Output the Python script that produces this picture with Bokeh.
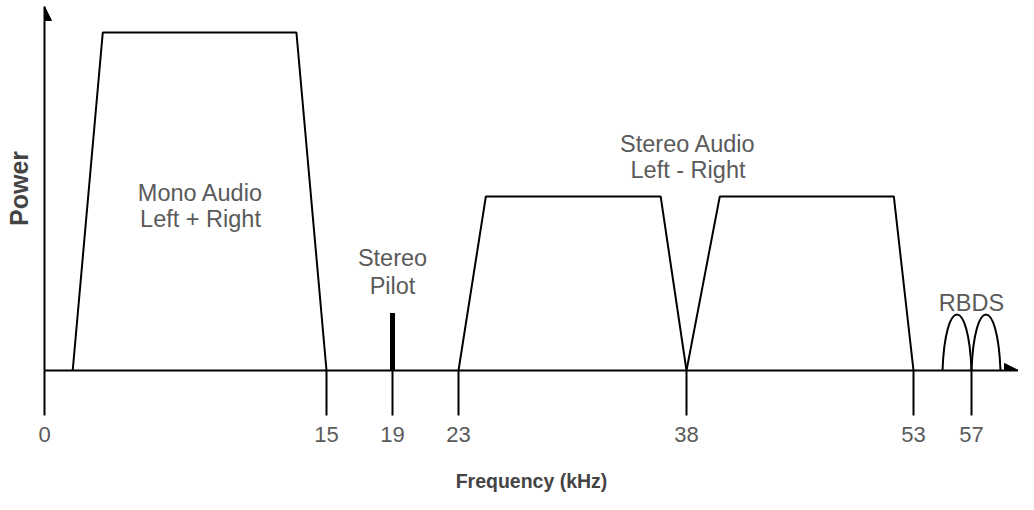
import numpy as np
from bokeh.plotting import figure
from bokeh.models import Range1d, FixedTicker, Arrow, NormalHead, CustomJSTickFormatter
from bokeh.core.properties import value
from bokeh.embed import file_html
from bokeh.resources import INLINE

# ---------------- data (kHz / relative power) ----------------
tick_khz = [0, 15, 19, 23, 38, 53, 57]
tick_labels = ["0", "15", "19", "23", "38", "53", "57"]

mono_khz = [1.5, 3.1, 13.4, 15]
mono_pwr = [0, 1.0, 1.0, 0]

lsb_khz = [23, 24.8, 36.3, 38]
lsb_pwr = [0, 0.515, 0.515, 0]

usb_khz = [38, 40.2, 51.7, 53]
usb_pwr = [0, 0.515, 0.515, 0]

pilot_khz = [19]
pilot_pwr = [0.17]

rbds_lo = [55, 57]
rbds_hi = [57, 59]
rbds_pwr = [0.166, 0.166]

label_text = ["Mono Audio", "Left + Right", "Stereo", "Pilot",
              "Stereo Audio", "Left - Right", "RBDS"]
label_khz = [8.3, 8.3, 19, 19, 38.1, 38.1, 57]
label_pwr = [0.524, 0.447, 0.334, 0.251, 0.669, 0.592, 0.201]

x_title = "Frequency (kHz)"
y_title = "Power"

# ---------------- schematic (not-to-scale) frequency axis ----------------
AXIS_KHZ = [0, 15, 19, 23, 38, 53, 57, 61]
AXIS_POS = [0, 282, 348, 414, 642, 869, 927, 985]


def sx(f):
    return np.interp(np.asarray(f, dtype=float), AXIS_KHZ, AXIS_POS)


W, H = 1018, 494
LEFT, TOP, BOTTOM = 44, 6, 124
X_END = W - LEFT
PX_Y = 338.0                      # pixels per power unit
Y_END = (H - TOP - BOTTOM) / PX_Y
FONT = "Liberation Sans"
TXT = "#5a5a5a"

p = figure(width=W, height=H, x_range=Range1d(0, X_END), y_range=Range1d(0, Y_END),
           output_backend="svg", toolbar_location=None,
           min_border_left=LEFT, min_border_right=0, min_border_top=TOP, min_border_bottom=BOTTOM)
p.outline_line_color = None
p.grid.visible = False
p.background_fill_color = "white"
p.border_fill_color = "white"

# x axis
xa = p.xaxis[0]
tick_pos = [float(v) for v in sx(tick_khz)]
xa.ticker = FixedTicker(ticks=tick_pos)
xa.formatter = CustomJSTickFormatter(args=dict(pos=tick_pos, labs=tick_labels), code="""
    for (let i = 0; i < pos.length; i++) { if (Math.abs(pos[i] - tick) < 1e-6) return labs[i]; }
    return "";
""")
xa.minor_tick_line_color = None
xa.major_tick_in = 0
xa.major_tick_out = 45
xa.major_tick_line_width = 2
xa.major_tick_line_color = "black"
xa.axis_line_width = 2
xa.axis_line_color = "black"
xa.major_label_standoff = 11
xa.major_label_text_font = FONT
xa.major_label_text_font_size = "22px"
xa.major_label_text_color = TXT
xa.axis_label = x_title
xa.axis_label_text_font = FONT
xa.axis_label_text_font_size = "19.5px"
xa.axis_label_text_font_style = "bold"
xa.axis_label_text_color = "#444444"
xa.axis_label_standoff = 25

# y axis
ya = p.yaxis[0]
ya.ticker = FixedTicker(ticks=[])
ya.major_tick_in = 0
ya.major_tick_out = 0
ya.minor_tick_line_color = None
ya.major_label_text_font_size = "0px"
ya.axis_line_width = 2
ya.axis_line_color = "black"
ya.axis_label = y_title
ya.axis_label_text_font = FONT
ya.axis_label_text_font_size = "25px"
ya.axis_label_text_font_style = "bold"
ya.axis_label_text_color = "#444444"
ya.axis_label_standoff = 12

# arrow heads
p.add_layout(Arrow(end=NormalHead(size=14, fill_color="black", line_color="black"),
                   x_start=X_END - 14, y_start=0, x_end=X_END, y_end=0, line_alpha=0))
p.add_layout(Arrow(end=NormalHead(size=14, fill_color="black", line_color="black"),
                   x_start=0, y_start=Y_END - 14 / PX_Y, x_end=0, y_end=Y_END, line_alpha=0))

# bands
for fk, pw in [(mono_khz, mono_pwr), (lsb_khz, lsb_pwr), (usb_khz, usb_pwr)]:
    p.line(sx(fk), pw, line_color="black", line_width=2)

# pilot
px = sx(pilot_khz)
p.segment(x0=px, y0=[0] * len(px), x1=px, y1=pilot_pwr, line_color="black", line_width=5, line_cap="butt")

# RBDS lobes
x0 = sx(rbds_lo)
x1 = sx(rbds_hi)
w = x1 - x0
h = np.array(rbds_pwr)
p.bezier(x0=x0, y0=[0, 0], x1=x1, y1=[0, 0],
         cx0=x0 + 0.1 * w, cy0=h * 4 / 3, cx1=x1 - 0.1 * w, cy1=h * 4 / 3,
         line_color="black", line_width=2)

# annotations
p.text(x=sx(label_khz), y=label_pwr, text=label_text, text_font=value(FONT),
       text_font_size="23.5px", text_color=TXT, text_align="center", text_baseline="alphabetic")

open("out.html", "w").write(file_html(p, INLINE))
